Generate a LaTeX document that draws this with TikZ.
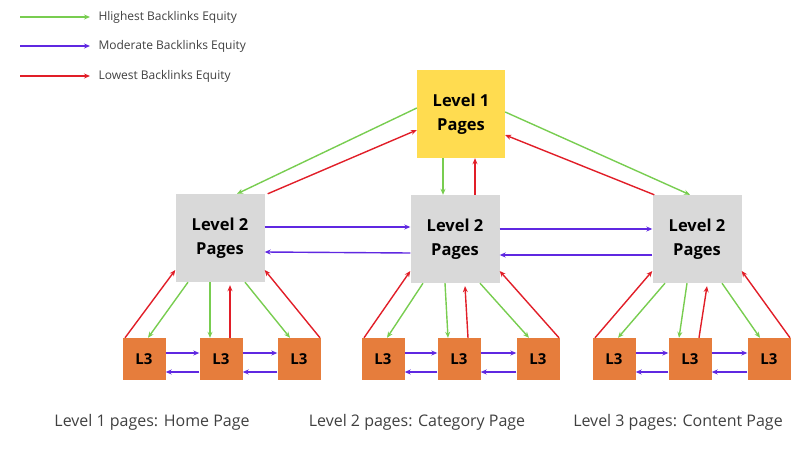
\documentclass[tikz,border=0pt]{standalone}
\usepackage{fontspec}
\setmainfont{Open Sans}
\usetikzlibrary{arrows.meta, positioning}
\definecolor{eqgreen}{RGB}{120,205,80}
\definecolor{eqpurple}{RGB}{95,40,225}
\definecolor{eqred}{RGB}{225,30,40}
\definecolor{lvlyellow}{RGB}{255,220,80}
\definecolor{lvlgray}{RGB}{217,217,217}
\definecolor{lvlorange}{RGB}{230,125,60}
\tikzset{greenarrow/.style={-{Stealth[length=6pt,width=5pt]}, eqgreen, line width=1.4pt},purplearrow/.style={-{Stealth[length=6pt,width=5pt]}, eqpurple, line width=1.4pt},redarrow/.style={-{Stealth[length=6pt,width=5pt]}, eqred, line width=1.4pt}}
\begin{document}
\begin{tikzpicture}[
        x=1pt, y=-1pt,
        levelonenode/.style={fill=lvlyellow, minimum width=88pt, minimum height=88pt, align=center, font=\fontsize{16.5}{24}\selectfont\bfseries},
        leveltwonode/.style={fill=lvlgray, minimum width=89pt, minimum height=88pt, align=center, font=\fontsize{16.5}{24}\selectfont\bfseries},
        levelthreenode/.style={fill=lvlorange, minimum width=43pt, minimum height=42pt, font=\fontsize{15}{18}\selectfont\bfseries},
        captionnode/.style={font=\fontsize{16}{19}\selectfont, text=black!75}
    ]
        \useasboundingbox (0,0) rectangle (800,450);
        % Legend
        \foreach \n/\y/\s/\t in {g/17/greenarrow/Hlighest Backlinks Equity, p/46/purplearrow/Moderate Backlinks Equity, r/76/redarrow/Lowest Backlinks Equity} {
            \coordinate (\n start) at (20,\y);
            \coordinate (\n end) at (90,\y);
            \draw[\s] (\n start) -- (\n end);
            \node[anchor=west, font=\fontsize{12}{14}\selectfont, text=black!75] (\n text) at (95,\y) {\t};
        }
        % Boxes
        \node[levelonenode] (top) at (461,114) {Level 1\\Pages};
        \node[leveltwonode] (left) at (220,238) {Level 2\\Pages};
        \node[leveltwonode] (mid) at (455,239) {Level 2\\Pages};
        \node[leveltwonode] (right) at (697,239) {Level 2\\Pages};
        \foreach \n/\x in {la/144, lb/221, lc/299, ma/383, mb/459, mc/538, ra/614, rb/690, rc/769} {
            \node[levelthreenode] (\n) at (\x,359) {L3};
        }
        % Level 1 to level 2
        \draw[greenarrow] ([yshift=6pt]top.west) -- ([xshift=17pt]left.north);
        \draw[redarrow] ([xshift=3pt]left.north east) -- ([yshift=-16pt]top.west);
        \draw[greenarrow] ([xshift=-18pt]top.south) -- ([xshift=-12pt]mid.north);
        \draw[redarrow] ([xshift=20pt]mid.north) -- ([xshift=14pt]top.south);
        \draw[greenarrow] ([yshift=2pt]top.east) -- ([xshift=-7pt]right.north);
        \draw[redarrow] ([xshift=2pt]right.north west) -- ([yshift=-21pt]top.east);
        % Level 2 to level 2
        \draw[purplearrow] ([yshift=11pt]left.east) -- ([yshift=12pt]mid.west);
        \draw[purplearrow] ([yshift=-14pt]mid.west) -- ([yshift=-14pt]left.east);
        \draw[purplearrow] ([yshift=10pt]mid.east) -- ([yshift=10pt]right.west);
        \draw[purplearrow] ([yshift=-16pt]right.west) -- ([yshift=-16pt]mid.east);
        % Level 2 to level 3
        \foreach \g/\a/\b/\c in {left/la/lb/lc, mid/ma/mb/mc, right/ra/rb/rc} {
            \draw[redarrow] ([xshift=-19pt]\a.north) -- ([yshift=-32pt]\g.west);
            \draw[greenarrow] ([xshift=-32pt]\g.south) -- ([xshift=4pt]\a.north);
            \draw[greenarrow] ([xshift=-10pt]\g.south) -- ([xshift=-11pt]\b.north);
            \draw[redarrow] ([xshift=9pt]\b.north) -- ([xshift=10pt,yshift=-3pt]\g.south);
            \draw[greenarrow] ([xshift=25pt]\g.south) -- ([xshift=-9pt]\c.north);
            \draw[redarrow] ([xshift=21pt]\c.north) -- ([yshift=-32pt]\g.east);
            \draw[purplearrow] ([yshift=6pt]\a.east) -- ([yshift=6pt]\b.west);
            \draw[purplearrow] ([yshift=-13pt]\b.west) -- ([yshift=-13pt]\a.east);
            \draw[purplearrow] ([yshift=6pt]\b.east) -- ([yshift=6pt]\c.west);
            \draw[purplearrow] ([yshift=-13pt]\c.west) -- ([yshift=-13pt]\b.east);
        }
        % Captions
        \node[captionnode] (capone) at (152,422) {Level 1 pages: Home Page};
        \node[captionnode] (captwo) at (417,422) {Level 2 pages: Category Page};
        \node[captionnode] (capthree) at (678,422) {Level 3 pages: Content Page};
    \end{tikzpicture}
\end{document}
